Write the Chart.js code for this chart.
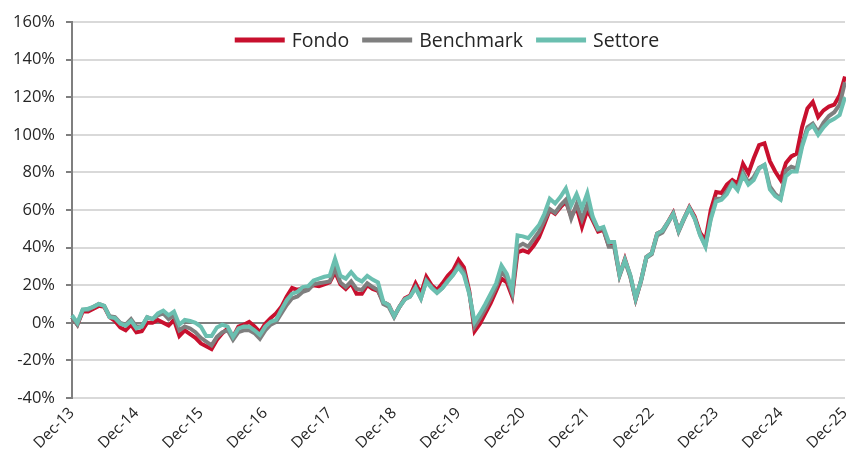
<!DOCTYPE html>
<html><head><meta charset="utf-8">
<script src="https://cdn.jsdelivr.net/npm/chart.js@4"></script>
<style>html,body{margin:0;padding:0;background:#fff}#wrap{width:846px;height:463px}</style>
</head><body><div id="wrap"><canvas id="c" width="846" height="463"></canvas></div>
<script>
const seriesNames = ['Fondo', 'Benchmark', 'Settore'];
const seriesColors = ['#c8102e', '#7f7f7f', '#6bbfb0'];
const tickLabels = ['Dec-13','Dec-14','Dec-15','Dec-16','Dec-17','Dec-18','Dec-19','Dec-20','Dec-21','Dec-22','Dec-23','Dec-24','Dec-25'];
const monthNames = ['Dec','Jan','Feb','Mar','Apr','May','Jun','Jul','Aug','Sep','Oct','Nov'];
const yTickValues = [-40, -20, 0, 20, 40, 60, 80, 100, 120, 140, 160];

const fondo = [
 3,-1,6,6,7.5,9,8.5,3,1,-2.5,-4,-1,
 -5,-4.5,0,0,1.5,0,-1.5,1.5,-7,-4,-6,-8,
 -11,-12.5,-14,-9,-5.5,-3,-7.5,-2,-1,0.5,-2,-5,
 -0.5,2.5,5,8.5,14,18.5,17.5,18.5,19,20,19.5,20.5,
 21.5,27,20.5,18,21,15.5,15.5,20,18,17,11,9.5,
 3.5,8.5,13,14.5,21,15.5,24.5,20,17.5,21,25,28,
 33.5,29.5,17,-4.5,-0.5,5,10.5,17,23.5,21.5,14,37.5,
 38.5,37.5,41,45.5,52.5,60,58,61.5,64.5,56.5,61.5,51,
 60,54.5,48.5,49.5,41,41.5,25.5,34,25,12.5,22.5,35,
 37,47.5,49,53.5,58.5,49,55.5,61.5,56.5,48,44,60,
 69.5,69,73.5,76,74,84.5,79.5,87.5,94.5,95.5,86,80.5,
 76,85,88.5,90,104,114,117.5,109.5,113,115,116,121,
 131
];
const benchmark = [
 3,-1,7,7,8.5,10,9,3.5,3,0,-1,2,
 -2,-2,3,2,4,5,2,4,-4,-2,-3,-5,
 -8,-10,-12,-7.5,-5,-4,-9,-5,-4,-4,-5.5,-8.5,
 -4,-1,0.5,5,9.5,13,14,16.5,17.5,20.5,21,21.5,
 22,29,21.5,19,22,18,17.5,21,19,17.5,10,8.5,
 3,8.5,12.5,14,19,13,22.5,19,16,18.5,22.5,25.5,
 30.5,27,16,-2,2.5,7.5,13,19,27,24,15.5,40.5,
 42,40.5,44.5,48.5,54.5,60.5,58.5,62.5,65.5,55.5,63,55,
 63,55.5,49.5,50,40.5,40.5,25,33,24.5,12.5,22,34.5,
 36.5,46.5,48,53,58,48.5,55,61,55.5,47,41,56,
 66,66,70,74.5,71.5,80,74.5,77.5,82.5,84,72.5,68.5,
 66,81,83,82,95,104,106,101.5,106.5,110,112,116,
 128
];
const settore = [
 4,0,7,7.5,8.5,10,9,3,2.5,-0.5,-1.5,1,
 -3,-2,3,2,5,6.5,4,6,-1,1.5,1,0,
 -2,-7,-7,-2.5,-1,-2,-7.5,-3,-2,-2,-4,-6.5,
 -2,0.5,1.5,7,12,15.5,16.5,19,19.5,22.5,23.5,24.5,
 25,34,25,23.5,27,23.5,22,25,23,21.5,11,9.5,
 3.5,8.5,12.5,14,18.5,13,22,18.5,16,18.5,22,25.5,
 29.5,25.5,15.5,0.5,5,10,15.5,21,30.5,26,17.5,46.5,
 46,45,48.5,52,58,66,63.5,67,71.5,62.5,68.5,61,
 69,56.5,50,51,43,43,25.5,33.5,25.5,13,22.5,35,
 37,47.5,49,53.5,58,49,55.5,61,55.5,46.5,40.5,55,
 64.5,65.5,68.5,74,70.5,78.5,73.5,76,82,84,71,67.5,
 65.5,78,80.5,80.5,93.5,102.5,105,100,104,107,108.5,110.5,
 120
];

// month categories Dec-13 .. Dec-25 (145 months)
const categories = [];
for (let i = 0; i <= 144; i++) {
  const m = i % 12;
  const yr = m === 0 ? 13 + i / 12 : 14 + Math.floor(i / 12);
  categories.push(monthNames[m] + '-' + yr);
}

const FONT = '"Open Sans", "DejaVu Sans", sans-serif';
const TEXT = '#262626';

const legendPlugin = {
  id: 'topLegend',
  afterDraw(chart) {
    const ctx = chart.ctx;
    ctx.save();
    ctx.font = '19.5px ' + FONT;
    ctx.textBaseline = 'middle';
    const lineW = 50, gap = 7, itemGap = 13, cy = 40;
    const items = chart.data.datasets.map(d => ({ t: d.label, c: d.borderColor, w: ctx.measureText(d.label).width }));
    const total = items.reduce((s, it) => s + lineW + gap + it.w, 0) + itemGap * (items.length - 1);
    let x = 447 - total / 2;
    items.forEach(it => {
      ctx.strokeStyle = it.c;
      ctx.lineWidth = 5;
      ctx.beginPath();
      ctx.moveTo(x, cy);
      ctx.lineTo(x + lineW, cy);
      ctx.stroke();
      x += lineW + gap;
      ctx.fillStyle = TEXT;
      ctx.fillText(it.t, x, cy + 1);
      x += it.w + itemGap;
    });
    ctx.restore();
  }
};

const seriesData = [fondo, benchmark, settore];
new Chart(document.getElementById('c'), {
  type: 'line',
  data: {
    labels: categories,
    datasets: seriesNames.map((n, k) => ({
      label: n,
      data: seriesData[k],
      borderColor: seriesColors[k],
      backgroundColor: seriesColors[k],
      borderWidth: 4,
      pointRadius: 0,
      tension: 0,
      order: 2 - k
    }))
  },
  options: {
    responsive: false,
    animation: false,
    devicePixelRatio: 1,
    layout: { padding: { top: 22, right: 1, left: 0, bottom: 0 } },
    plugins: { legend: { display: false }, tooltip: { enabled: false } },
    scales: {
      x: {
        type: 'category',
        grid: { display: false, drawTicks: false },
        border: { display: false },
        ticks: {
          autoSkip: false,
          maxRotation: 45,
          minRotation: 45,
          padding: 6,
          color: TEXT,
          font: { family: FONT, size: 15.5 },
          callback: function (v, i) { return i % 12 === 0 ? tickLabels[i / 12] : ''; }
        },
        afterFit(s) { s.height = 65; s.paddingRight = 0; s.paddingLeft = 0; }
      },
      y: {
        min: -40,
        max: 160,
        afterBuildTicks(s) { s.ticks = yTickValues.map(v => ({ value: v })); },
        ticks: {
          stepSize: 20,
          padding: 11,
          color: TEXT,
          font: { family: FONT, size: 16.5 },
          callback: v => v + '%'
        },
        grid: {
          color: c => (c.tick && c.tick.value === 0) ? '#7f7f7f' : '#d9d9d9',
          lineWidth: 2,
          tickLength: 6,
          tickColor: '#7f7f7f',
          tickWidth: 2
        },
        border: { color: '#7f7f7f', width: 2 },
        afterFit(s) { s.width = 72; }
      }
    }
  },
  plugins: [legendPlugin]
});
</script>
</body></html>
